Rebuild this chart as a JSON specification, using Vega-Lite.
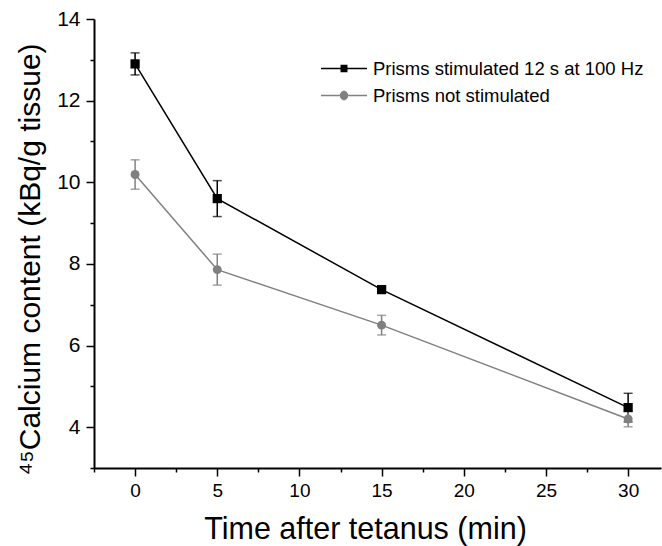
{
  "$schema": "https://vega.github.io/schema/vega-lite/v6.json",
  "autosize": {"type": "none"},
  "padding": {"left": 94, "top": 19, "right": 1, "bottom": 78},
  "width": 567,
  "height": 449,
  "background": "white",
  "config": {
    "view": {"stroke": null},
    "font": "Liberation Sans",
    "axis": {
      "grid": false,
      "domainColor": "black",
      "domainWidth": 2,
      "tickColor": "black",
      "tickWidth": 1.5,
      "labelColor": "black",
      "titleColor": "black",
      "labelFont": "Liberation Sans",
      "titleFont": "Liberation Sans",
      "titleFontWeight": "normal"
    }
  },
  "data": {
    "values": [
      {"t": 0, "v": 12.9, "err": 0.27, "series": "Prisms stimulated 12 s at 100 Hz"},
      {"t": 5, "v": 9.6, "err": 0.44, "series": "Prisms stimulated 12 s at 100 Hz"},
      {"t": 15, "v": 7.37, "err": 0.05, "series": "Prisms stimulated 12 s at 100 Hz"},
      {"t": 30, "v": 4.48, "err": 0.35, "series": "Prisms stimulated 12 s at 100 Hz"},
      {"t": 0, "v": 10.19, "err": 0.36, "series": "Prisms not stimulated"},
      {"t": 5, "v": 7.86, "err": 0.38, "series": "Prisms not stimulated"},
      {"t": 15, "v": 6.5, "err": 0.24, "series": "Prisms not stimulated"},
      {"t": 30, "v": 4.2, "err": 0.19, "series": "Prisms not stimulated"}
    ]
  },
  "encoding": {
    "x": {
      "field": "t", "type": "quantitative",
      "scale": {"domain": [-2.5, 32], "nice": false, "zero": false},
      "axis": {
        "title": "Time after tetanus (min)",
        "titleFontSize": 30.5,
        "titlePadding": 14,
        "titleX": 271,
        "labelFontSize": 19,
        "labelPadding": 5,
        "values": [-2.5, 0, 2.5, 5, 7.5, 10, 12.5, 15, 17.5, 20, 22.5, 25, 27.5, 30],
        "labelExpr": "datum.value % 5 === 0 ? datum.label : ''",
        "tickSize": {"condition": {"test": "datum.value % 5 === 0", "value": 8}, "value": 4}
      }
    },
    "y": {
      "field": "v", "type": "quantitative",
      "scale": {"domain": [3, 14], "nice": false, "zero": false},
      "axis": {
        "title": "⁴⁵Calcium content (kBq/g tissue)",
        "titleFontSize": 30,
        "titlePadding": 11,
        "titleY": 240,
        "labelFontSize": 21,
        "labelPadding": 6,
        "values": [3, 4, 5, 6, 7, 8, 9, 10, 11, 12, 13, 14],
        "labelExpr": "datum.value % 2 === 0 ? datum.label : ''",
        "tickSize": {"condition": {"test": "datum.value % 2 === 0", "value": 8}, "value": 4}
      }
    },
    "color": {
      "field": "series", "type": "nominal",
      "scale": {"domain": ["Prisms stimulated 12 s at 100 Hz", "Prisms not stimulated"], "range": ["#000000", "#808080"]},
      "legend": {
        "title": null,
        "orient": "none",
        "legendX": 236.5,
        "legendY": 36,
        "padding": 0,
        "symbolSize": 625,
        "symbolOpacity": 1,
        "symbolStrokeWidth": 1.6,
        "labelFontSize": 18.5,
        "labelLimit": 400,
        "labelColor": "black",
        "labelOffset": 15.5,
        "rowPadding": 4
      }
    }
  },
  "layer": [
    {
      "mark": {"type": "point", "filled": false, "opacity": 0, "strokeWidth": 1.6},
      "encoding": {
        "shape": {
          "field": "series", "type": "nominal",
          "scale": {
            "domain": ["Prisms stimulated 12 s at 100 Hz", "Prisms not stimulated"],
            "range": [
              "M-1.84,0H1.84M-0.28,-0.239H0.28M-0.28,-0.12H0.28M-0.28,0.12H0.28M-0.28,0.239H0.28",
              "M-1.84,0H1.84M-0.322,-0.12H0.322M-0.322,0.12H0.322M-0.247,-0.239H0.247M-0.247,0.239H0.247M-0.127,-0.32H0.127M-0.127,0.32H0.127"
            ]
          },
          "legend": {
            "title": null,
            "orient": "none",
            "legendX": 236.5,
            "legendY": 36,
            "padding": 0,
            "symbolSize": 625,
            "symbolOpacity": 1,
            "symbolStrokeWidth": 1.6,
            "labelFontSize": 18.5,
            "labelLimit": 400,
            "labelColor": "black",
            "labelOffset": 15.5,
            "rowPadding": 4
          }
        }
      }
    },
    {
      "mark": {"type": "errorbar", "ticks": {"size": 9}, "thickness": 1.5},
      "encoding": {
        "yError": {"field": "err"}
      }
    },
    {
      "mark": {"type": "line", "strokeWidth": 1.5}
    },
    {
      "transform": [{"filter": "datum.series === 'Prisms stimulated 12 s at 100 Hz'"}],
      "mark": {"type": "point", "filled": true, "opacity": 1, "size": 85, "shape": "square"}
    },
    {
      "transform": [{"filter": "datum.series === 'Prisms not stimulated'"}],
      "mark": {"type": "point", "filled": true, "opacity": 1, "size": 80, "shape": "circle"}
    }
  ]
}
